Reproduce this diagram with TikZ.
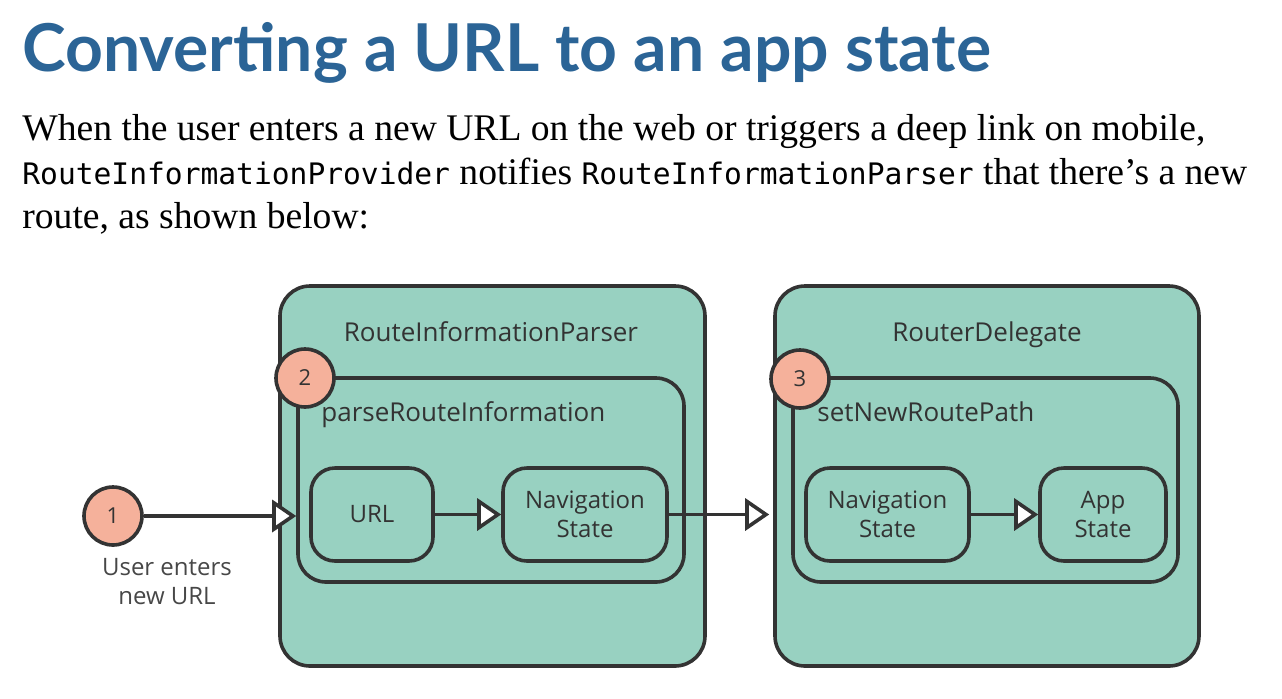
\documentclass[tikz,border=0pt]{standalone}
\usepackage{fontspec}
\setmainfont{Liberation Serif}
\setsansfont{Open Sans}
\setmonofont{DejaVu Sans Mono}
\newfontfamily\titlefont{Lato}
\usepackage{tikz}
\usetikzlibrary{arrows.meta,positioning}
\definecolor{boxfill}{HTML}{98D1C1}
\definecolor{stepfill}{HTML}{F5B19B}
\definecolor{edgegray}{HTML}{333333}
\definecolor{titleblue}{HTML}{2B6496}
\tikzset{
    %Define standard arrow tip
    >={Triangle[length=12pt,width=16pt,fill=white]},
    %Define style for boxes
    outerbox/.style={
           rectangle,
           rounded corners=15pt,
           draw=edgegray, line width=1.8pt,
           fill=boxfill,
           minimum width=212.5pt,
           minimum height=190pt},
    innerbox/.style={
           rectangle,
           rounded corners=14pt,
           draw=edgegray, line width=1.8pt,
           fill=boxfill,
           minimum width=193pt,
           minimum height=102pt},
    statebox/.style={
           rectangle,
           rounded corners=12pt,
           draw=edgegray, line width=1.8pt,
           fill=boxfill,
           minimum height=46.5pt,
           font=\sffamily\fontsize{12}{14.5}\selectfont,
           text=edgegray,
           align=center},
    stepnum/.style={
           circle,
           draw=edgegray, line width=1.8pt,
           fill=stepfill,
           minimum size=29pt,
           inner sep=0pt,
           font=\sffamily\fontsize{11}{13}\selectfont,
           text=edgegray},
    boxlabel/.style={
           font=\sffamily\fontsize{13}{15}\selectfont,
           text=edgegray,
           inner sep=0pt},
    % Define arrow style
    pil/.style={
           ->,
           draw=edgegray,
           line width=1.8pt}
}
\newcommand{\code}[1]{{\ttfamily\fontsize{14.8}{16}\selectfont #1}}
\begin{document}
\begin{tikzpicture}[x=0.5pt,y=-0.5pt]
\useasboundingbox (0,0) rectangle (1282,698);

 %heading and text
\node[anchor=base west, inner sep=0pt, text=titleblue, font=\titlefont\bfseries\fontsize{33}{40}\selectfont] (title) at (22,71) {Converting a URL to an app state};
\node[anchor=base west, inner sep=0pt, align=left, font=\fontsize{18.8}{21.8}\selectfont] (intro) at (22,228)
  {When the user enters a new URL on the web or triggers a deep link on mobile,\\
   \code{RouteInformationProvider} notifies \code{RouteInformationParser} that there's a new\\
   route, as shown below:};

 %boxes
\node[outerbox, minimum width=212.5pt] (parser) at (492.5,476) {};
\node[outerbox, minimum width=212pt] (delegate) at (987,476) {};
\node[innerbox] (parse) at (491,480) {};
\node[innerbox, minimum width=192.5pt] (setpath) at (985.5,480) {};

\node[boxlabel, anchor=base] (parsertitle) at (491,341) {RouteInformationParser};
\node[boxlabel, anchor=base] (delegatetitle) at (987,341) {RouterDelegate};
\node[boxlabel, anchor=base west] (parsetitle) at (321,421) {parseRouteInformation};
\node[boxlabel, anchor=base west] (setpathtitle) at (817,421) {setNewRoutePath};

\node[statebox, minimum width=61pt] (url) at (372,514.5) {URL};
\node[statebox, minimum width=82pt] (navA) at (585,514.5) {Navigation\\State};
\node[statebox, minimum width=81.5pt] (navB) at (887.5,514.5) {Navigation\\State};
\node[statebox, minimum width=63pt] (app) at (1103,514.5) {App\\State};

 %steps
\node[stepnum] (s1) at (113,516) {1};
\node[stepnum] (s2) at (305,378) {2};
\node[stepnum] (s3) at (800,379) {3};
\node[boxlabel, align=center, text=edgegray!90, anchor=north, font=\sffamily\fontsize{12}{14.5}\selectfont] (userlabel) at (167,558) {User enters\\new URL};

 %arrows
\path[pil]
    (s1) edge (s1 -| parse.west)
    (url) edge (navA)
    (navA) edge ([xshift=-2pt]navA -| delegate.west)
    (navB) edge (app);

\end{tikzpicture}
\end{document}
